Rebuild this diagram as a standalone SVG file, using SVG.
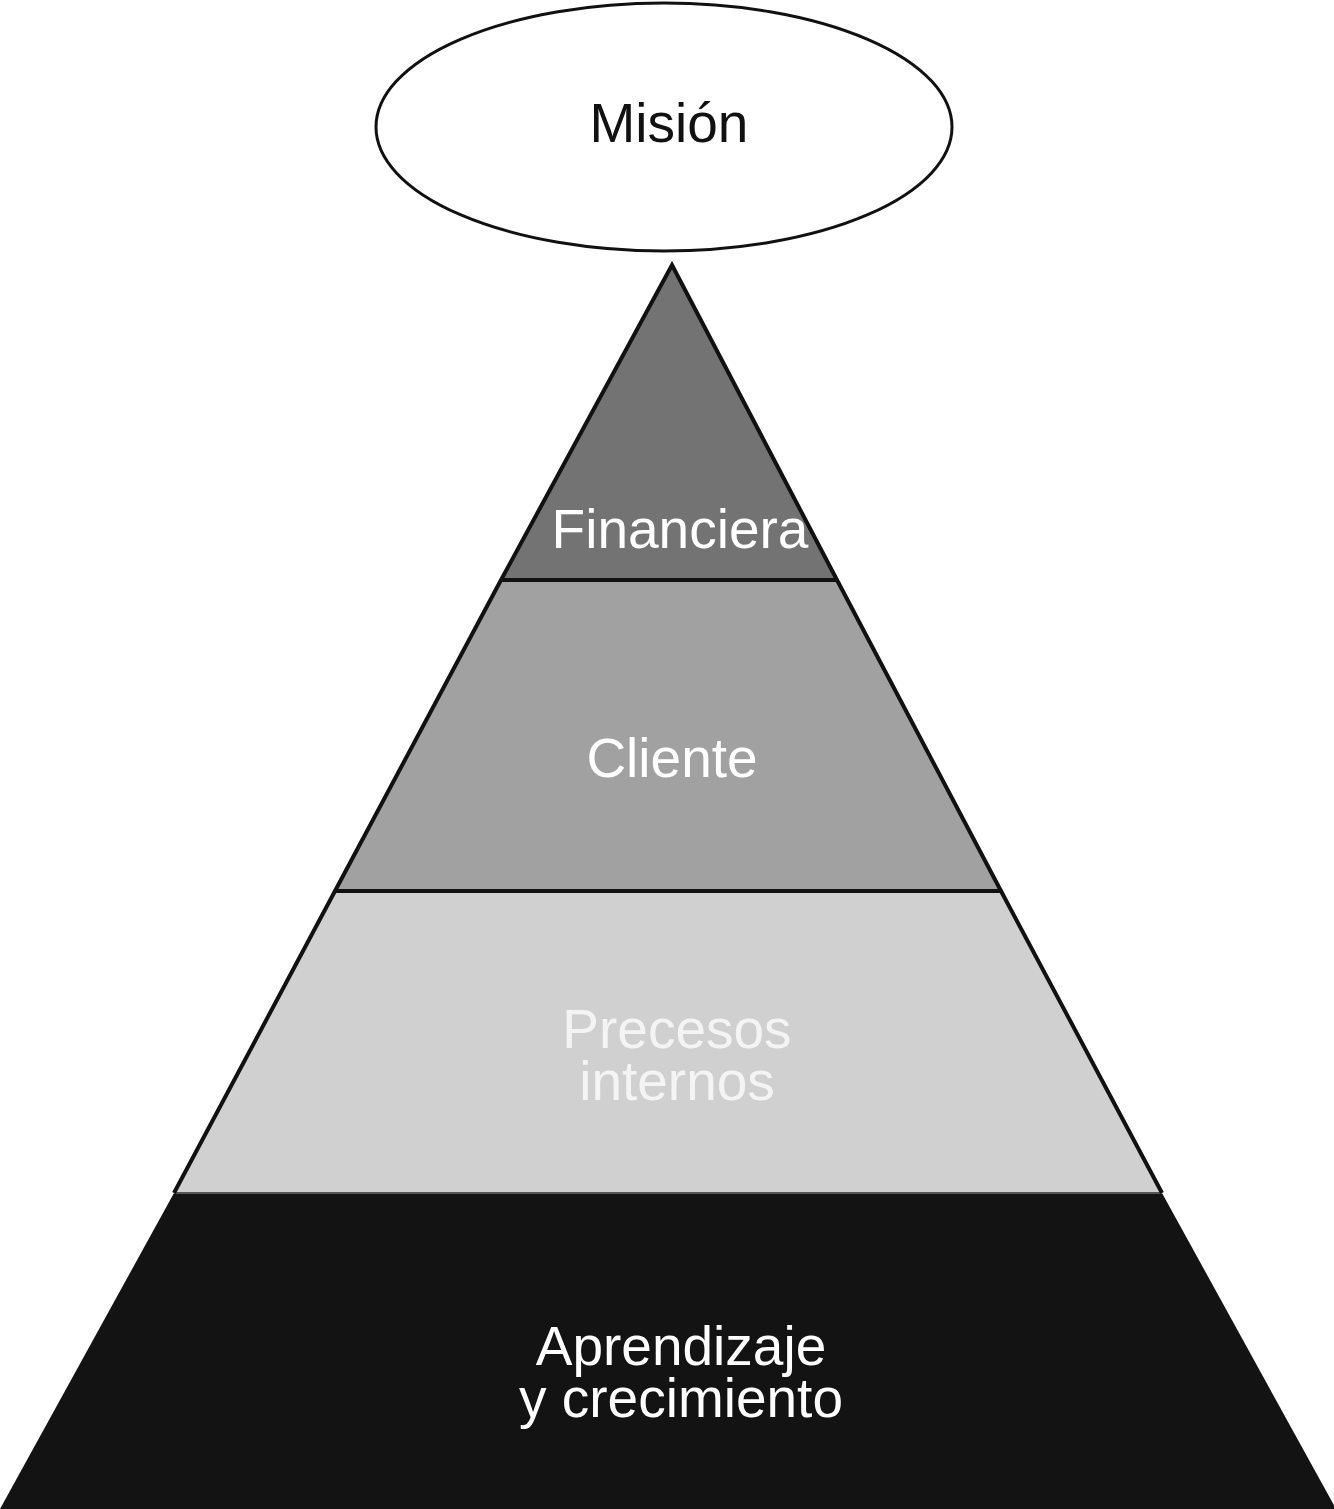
<svg xmlns="http://www.w3.org/2000/svg" width="1334" height="1509" viewBox="0 0 1334 1509">
<style>
.lbl{font-family:"Liberation Sans",Arial,sans-serif;font-size:55px;text-anchor:middle}
.w{fill:#ffffff}
.edge{stroke:#111;stroke-width:4;fill:none;stroke-linejoin:miter}
</style>
<rect width="1334" height="1509" fill="#ffffff"/>
<g id="mision">
<ellipse cx="664" cy="127" rx="288" ry="124" fill="#ffffff" stroke="#111" stroke-width="3"/>
<text class="lbl" x="669" y="142" fill="#111" font-size="56">Misión</text>
</g>
<g id="aprendizaje">
<polygon points="174,1193 1162,1193 1336,1509 0,1509" fill="#131313"/>
<text class="lbl w" x="681" y="1365">Aprendizaje</text>
<text class="lbl w" x="681" y="1417">y crecimiento</text>
</g>
<g id="procesos">
<polygon points="335,891 1001,891 1162,1193 174,1193" fill="#d0d0d0"/>
<line x1="174" y1="1193" x2="1162" y2="1193" stroke="#555" stroke-width="2"/>
<text class="lbl" x="677" y="1048" fill="#f4f4f4">Precesos</text>
<text class="lbl" x="677" y="1100" fill="#f4f4f4">internos</text>
</g>
<g id="cliente">
<polygon points="501,580 837,580 1001,891 335,891" fill="#a1a1a1"/>
<text class="lbl w" x="672" y="777">Cliente</text>
</g>
<g id="financiera">
<polygon points="672,265 837,580 501,580" fill="#737373"/>
</g>
<g id="connectors">
<polyline class="edge" points="174,1193 335,891 501,580 672,265 837,580 1001,891 1162,1193"/>
<line class="edge" x1="501" y1="580" x2="837" y2="580"/>
<line class="edge" x1="335" y1="891" x2="1001" y2="891"/>
</g>
<text class="lbl w" x="680" y="548">Financiera</text>
</svg>
